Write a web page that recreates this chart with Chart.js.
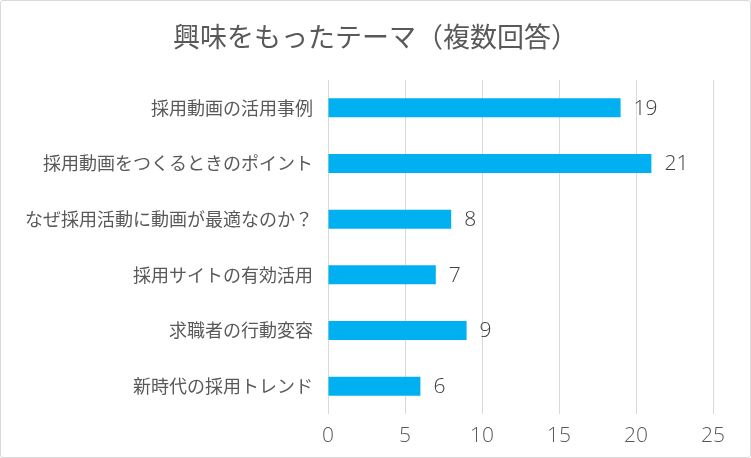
<!DOCTYPE html>
<html><head><meta charset="utf-8">
<script src="https://cdn.jsdelivr.net/npm/chart.js@4"></script>
<style>
html,body{margin:0;padding:0;background:#fff;}
#wrap{position:relative;width:751px;height:458px;}
#frame{position:absolute;left:0;top:0;width:749px;height:456px;border:1px solid #d9d9d9;border-radius:3px;pointer-events:none;}
canvas{position:absolute;left:0;top:0;}
</style></head>
<body>
<div id="wrap"><canvas id="c" width="751" height="458"></canvas><div id="frame"></div></div>
<script>
const titleText = "興味をもったテーマ（複数回答）";
const categories = ["採用動画の活用事例","採用動画をつくるときのポイント","なぜ採用活動に動画が最適なのか？","採用サイトの有効活用","求職者の行動変容","新時代の採用トレンド"];
const values = [19,21,8,7,9,6];
const xTicks = [0,5,10,15,20,25];

const JP = "'Noto Sans CJK JP','Noto Sans',sans-serif";
const NUM = "'Open Sans','Noto Sans',sans-serif";
const valueLabels = {
  id:'valueLabels',
  afterLayout(chart){
    const tb = chart.titleBlock;
    if (tb) { tb.left = 0; tb.right = chart.width; tb.width = chart.width; }
  },
  afterDatasetsDraw(chart){
    const ctx = chart.ctx;
    const meta = chart.getDatasetMeta(0);
    ctx.save();
    ctx.font = "300 21px " + NUM;
    ctx.fillStyle = "#404040";
    ctx.textBaseline = "middle";
    ctx.textAlign = "left";
    meta.data.forEach((bar,i)=>{
      ctx.fillText(String(chart.data.datasets[0].data[i]), bar.x + 13, bar.y + 1);
    });
    ctx.restore();
  }
};

new Chart(document.getElementById('c'),{
  type:'bar',
  data:{labels:categories,datasets:[{data:values,backgroundColor:'#00b0f0',barPercentage:0.34,categoryPercentage:1}]},
  options:{
    indexAxis:'y',
    responsive:false,
    animation:false,
    layout:{padding:{left:19,right:38,top:0,bottom:0}},
    plugins:{
      legend:{display:false},
      tooltip:{enabled:false},
      title:{display:true,text:titleText,color:'#595959',font:{family:JP,size:27,weight:'normal'},padding:{top:21,bottom:26.6}}
    },
    scales:{
      x:{
        min:0,max:25,
        afterBuildTicks(s){ s.ticks = xTicks.map(v=>({value:v})); },
        afterFit(s){ s.height = 44; },
        grid:{color:'#d9d9d9',drawTicks:false,lineWidth:1},
        border:{display:false},
        ticks:{color:'#595959',font:{family:NUM,size:21,weight:300},padding:9}
      },
      y:{
        afterFit(s){ s.width = 309; },
        grid:{display:false},
        border:{display:false},
        ticks:{color:'#595959',font:{family:JP,size:18},padding:7}
      }
    }
  },
  plugins:[valueLabels]
});
</script>
</body></html>
